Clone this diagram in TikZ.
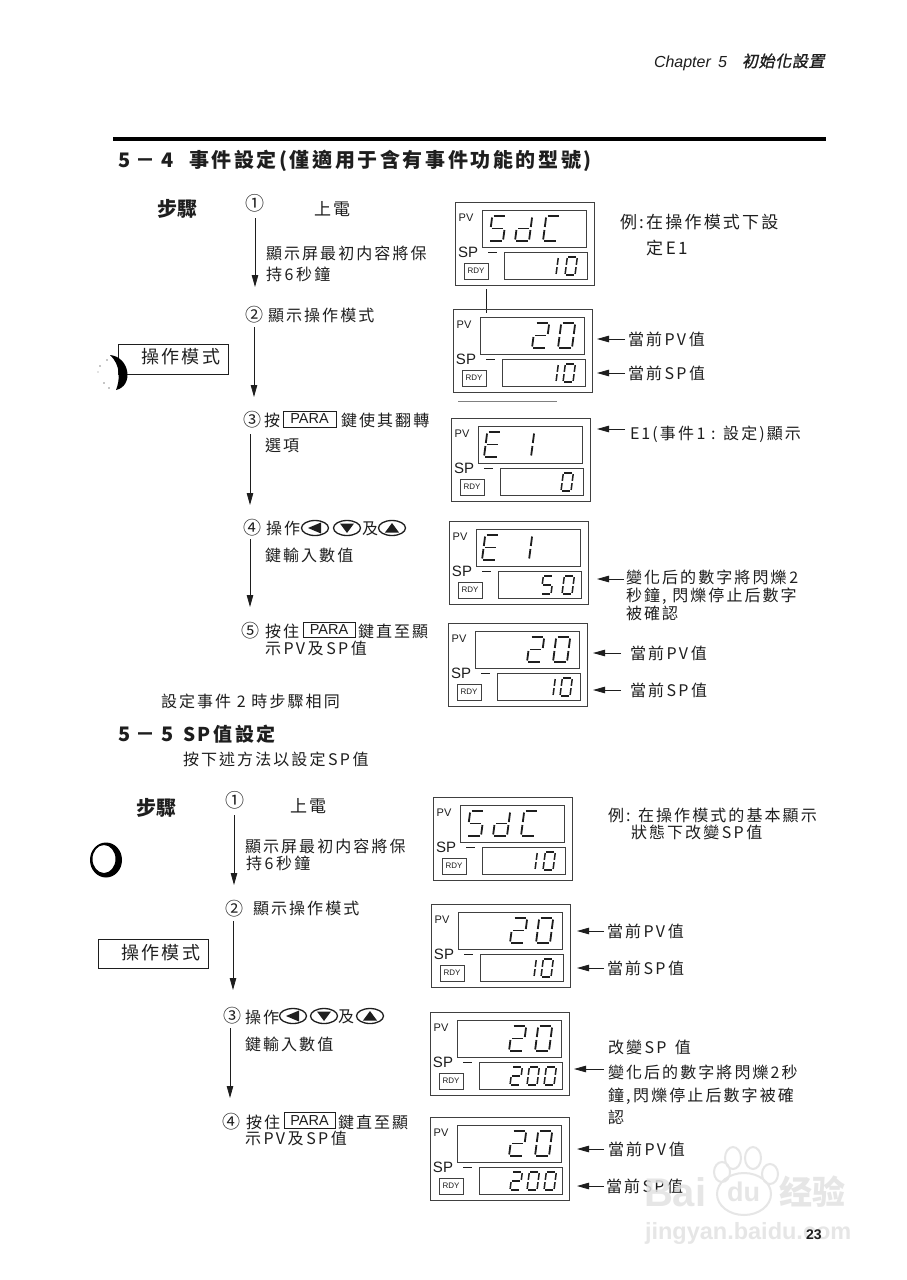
\documentclass[tikz,border=0pt]{standalone}
\usepackage{fontspec}
\usetikzlibrary{arrows.meta,shapes.geometric}
\setmainfont{Liberation Sans}
\newfontfamily\cjk[LetterSpace=13]{Noto Sans CJK TC}
\newfontfamily\cjktight{Noto Sans CJK TC}
\newfontfamily\cjkit[FakeSlant=0.2,FakeBold=1.2,LetterSpace=4]{Noto Sans CJK TC}
\newfontfamily\latit{Liberation Sans}
\definecolor{ink}{HTML}{1E1E1E}
\definecolor{wm}{HTML}{E2E2E2}
\def\sgA{.1/1/.9/1}\def\sgB{1/.94/1/.56}\def\sgC{1/.44/1/.06}\def\sgD{.1/0/.9/0}
\def\sgE{0/.44/0/.06}\def\sgF{0/.94/0/.56}\def\sgG{.1/.5/.9/.5}
\edef\dgsZero{\sgA,\sgB,\sgC,\sgD,\sgE,\sgF}
\edef\dgsOne{\sgB,\sgC}
\edef\dgsTwo{\sgA,\sgB,\sgG,\sgE,\sgD}
\edef\dgsFive{\sgA,\sgF,\sgG,\sgC,\sgD}
\edef\dgsLd{\sgB,\sgC,\sgD,\sgE,\sgG}
\edef\dgsCc{\sgA,\sgF,\sgE,\sgD}
\edef\dgsEe{\sgA,\sgF,\sgG,\sgE,\sgD}
% \dg{name}{x}{bottom y}{w}{h}{line width}
\newcommand\dg[6]{%
  \begin{scope}[shift={(#2,#3)},x={(#4pt,0pt)},y={(0.13*#5pt,#5pt)}]
    \expandafter\let\expandafter\dglist\csname dgs#1\endcsname
    \foreach \xa/\ya/\xb/\yb in \dglist {\draw[ink,line width=#6pt] (\xa,\ya)--(\xb,\yb);}
  \end{scope}}
\newcommand\pvd[2]{\dg{#1}{#2}{39}{14}{25}{1.8}}
\newcommand\spd[2]{\dg{#1}{#2}{73}{10}{18}{1.5}}
% panel
\newcommand\panel[5]{%
  \begin{scope}[shift={(#2,#3)}]
    \node[pbox,minimum width=139pt,minimum height=83pt] (#1) at (0,0) {};
    \node[pbox,minimum width=104pt,minimum height=37pt] (#1pv) at (27,8) {};
    \node[pbox,minimum width=83pt,minimum height=27pt] (#1sp) at (49,50) {};
    \node[pbox,minimum width=24pt,minimum height=16pt] (#1rdy) at (9,61) {};
    \node[ink,font=\fontsize{8}{8}\selectfont,inner sep=0pt] (#1rdyt) at (21,69) {RDY};
    \node[ink,font=\fontsize{11}{11}\selectfont,inner sep=0pt] (#1pvt) at (11,16) {PV};
    \node[ink,font=\fontsize{15}{16}\selectfont,inner sep=0pt] (#1spt) at (13,50) {SP};
    \draw[ink,line width=.8pt] (33,50) -- (42,50);
    #4
    #5
  \end{scope}}
\newcommand\tx[5][]{\node[lab,#1] (#2) at (#3,#4) {#5};}
\newcommand\arrowdown[4]{%
  \coordinate (#1s) at (#2,#3); \coordinate (#1e) at (#2,#4);
  \draw[stepline] (#1s) -- (#1e);}
\newcommand\leader[4]{%
  \coordinate (#1s) at (#2,#4); \coordinate (#1e) at (#3,#4);
  \draw[leadline] (#1s) -- (#1e);}
\newcommand\parabox[5]{\node[pbox,minimum width=#4pt,minimum height=#5pt,ink,line width=.7pt] (#1) at (#2,#3) {};
  \node[ink,font=\fontsize{14.5}{15}\selectfont,inner sep=0pt] (#1t) at (#2+#4/2,#3+#5/2) {PARA};}
% round key: dir 0=left 1=down 2=up
\newcommand\rkey[4]{%
  \node[draw=ink,ellipse,line width=1.3pt,minimum width=27pt,minimum height=15pt,inner sep=0pt] (#1) at (#2,#3) {};
  \begin{scope}[shift={(#2,#3)}]
  \ifcase#4 \fill[ink] (-7,0)--(6,-5.5)--(6,5.5)--cycle;
  \or \fill[ink] (-7,-4.5)--(7,-4.5)--(0,5)--cycle;
  \or \fill[ink] (-7,4.5)--(7,4.5)--(0,-5)--cycle;
  \fi
  \end{scope}}
\tikzset{
  pbox/.style={draw=ink!85,line width=.7pt,anchor=north west,inner sep=0pt,outer sep=0pt},
  lab/.style={anchor=west,inner sep=0pt,outer sep=0pt,text=ink,font=\fontsize{16}{18}\cjk,text height=12pt,text depth=0pt},
  big/.style={font=\fontsize{20}{22}\bfseries\cjk,text height=14.5pt},
  mid/.style={font=\fontsize{17}{20}\cjk,text height=13pt},
  num/.style={font=\fontsize{18}{20}\cjktight,text height=14pt},
  stepline/.style={draw=ink,line width=.8pt,-{Triangle[length=12pt,width=6.5pt]}},
  leadline/.style={draw=ink,line width=.8pt,-{Triangle[length=12pt,width=6.5pt]}},
}
\begin{document}
\begin{tikzpicture}[x=1pt,y=-1pt]
\useasboundingbox (0,0) rectangle (906,1280);
\fill[white] (0,0) rectangle (906,1280);
% header
\node[lab,font=\fontsize{16}{18}\latit\itshape] (hdr) at (654,61) {Chapter\ \,5};
\node[lab,font=\fontsize{16}{18}\cjkit] (hdrc) at (742,61) {初始化設置};
\draw[black,line width=4pt] (113,139) coordinate (ruleL) -- (826,139) coordinate (ruleR);
% section 5-4
\tx[big]{h1a}{118}{160}{5\;－\;4}
\tx[big]{h1b}{189}{160}{事件設定(僅適用于含有事件功能的型號)}
\tx[big,font=\fontsize{20}{22}\bfseries\cjktight]{st1}{157}{209}{步驟}
\tx[num,font=\fontsize{19}{20}\cjktight]{a1}{245}{203}{①}
\tx[mid]{a1t}{314}{209}{上電}
\arrowdown{ar1}{255}{218}{287}
\tx{a1x}{266}{253}{顯示屏最初内容將保}
\tx{a1y}{266}{274}{持\,6\,秒鐘}
\tx[num]{a2}{245}{314}{②}
\tx{a2t}{268}{315}{顯示操作模式}
\arrowdown{ar2}{254}{327}{397}
\node[pbox,ink,minimum width=110pt,minimum height=30pt] (mode1) at (118,344) {};
\tx[mid,font=\fontsize{18}{20}\cjk]{mode1t}{141}{357}{操作模式}
% crescent 1
\fill[black] (110,355) .. controls (130,357) and (134,386) .. (116,390) .. controls (120,380) and (121,365) .. (110,355) -- cycle;
\fill[black!45] (100,366) circle (.8) (104,383) circle (.8) (98,372) circle (.6) (109,388) circle (.9) (107,360) circle (.8);
\tx[num]{a3}{243}{419}{③}
\tx{a3a}{264}{420}{按}
\parabox{k3}{283}{411}{53}{16}
\tx{a3b}{341}{420}{鍵使其翻轉}
\tx{a3c}{265}{445}{選項}
\arrowdown{ar3}{250}{434}{505}
\tx[num]{a4}{243}{527}{④}
\tx{a4a}{266}{528}{操作}
\rkey{r1}{315}{528}{0}
\rkey{r2}{347}{528}{1}
\tx[font=\fontsize{16}{18}\cjktight]{a4b}{362}{528}{及}
\rkey{r3}{392}{528}{2}
\tx{a4c}{265}{555}{鍵輸入數值}
\arrowdown{ar4}{250}{539}{607}
\tx[num]{a5}{241}{630}{⑤}
\tx{a5a}{265}{631}{按住}
\parabox{k5}{303}{622}{52}{15}
\tx{a5b}{358}{631}{鍵直至顯}
\tx{a5c}{265}{648}{示\,PV\,及\,SP\,值}
\tx{a6}{161}{701}{設定事件 2 時步驟相同}
% panels top
\panel{p1}{455}{202}{\pvd{Five}{34}\pvd{Ld}{60}\pvd{Cc}{88}}{\spd{One}{91}\spd{Zero}{110}}
\draw[ink,line width=.6pt] (p1.south west) ++(31,4) coordinate (c1a) -- ++(0,24) coordinate (c1b);
\panel{p2}{453}{309}{\pvd{Two}{79}\pvd{Zero}{105}}{\spd{One}{93}\spd{Zero}{110}}
\draw[gray,line width=.7pt] (458,401) coordinate (c2a) -- (557,401) coordinate (c2b);
\panel{p3}{451}{418}{\pvd{Ee}{33}\pvd{One}{66}}{\spd{Zero}{110}}
\panel{p4}{449}{521}{\pvd{Ee}{33}\pvd{One}{66}}{\spd{Five}{92}\spd{Zero}{113}}
\panel{p5}{448}{623}{\pvd{Two}{79}\pvd{Zero}{105}}{\spd{One}{95}\spd{Zero}{112}}
% right labels top
\tx[mid]{n1}{620}{222}{例:在操作模式下設}
\tx[mid]{n2}{646}{248}{定\,E1}
\tx{l1}{628}{339}{當前\,PV\,值}\leader{ld1}{625}{597}{339}
\tx{l2}{628}{373}{當前\,SP\,值}\leader{ld2}{625}{597}{373}
\tx{l3}{630}{433}{E1(事件\,1 : 設定)顯示}\leader{ld3}{625}{597}{429}
\tx{l4}{626}{577}{變化后的數字將閃爍\,2}\leader{ld4}{624}{597}{579}
\tx{l5}{626}{595}{秒鐘, 閃爍停止后數字}
\tx{l6}{626}{613}{被確認}
\tx{l7}{630}{653}{當前\,PV\,值}\leader{ld5}{621}{593}{653}
\tx{l8}{630}{690}{當前\,SP\,值}\leader{ld6}{621}{593}{690}
% section 5-5
\tx[big]{h2a}{118}{734}{5\;－\;5}
\tx[big,font=\fontsize{19}{22}\bfseries\cjk]{h2b}{183}{734}{SP\,值設定}
\tx{h2c}{183}{759}{按下述方法以設定\,SP\,值}
\tx[big,font=\fontsize{20}{22}\bfseries\cjktight]{st2}{136}{808}{步驟}
\tx[num,font=\fontsize{19}{20}\cjktight]{b1}{225}{800}{①}
\tx[mid]{b1t}{290}{806}{上電}
\arrowdown{br1}{234}{815}{885}
\tx{b1x}{245}{846}{顯示屏最初内容將保}
\tx{b1y}{246}{863}{持\,6\,秒鐘}
\tx[num]{b2}{225}{908}{②}
\tx{b2t}{253}{908}{顯示操作模式}
\arrowdown{br2}{233}{921}{990}
\node[pbox,ink,minimum width=110pt,minimum height=29pt] (mode2) at (98,939) {};
\tx[mid,font=\fontsize{18}{20}\cjk]{mode2t}{121}{953}{操作模式}
% ring
\fill[black,even odd rule] (106,860) ellipse [x radius=16,y radius=17.5] (104,859) ellipse [x radius=11.5,y radius=14];
\tx[num]{b3}{223}{1015}{③}
\tx{b3a}{245}{1017}{操作}
\rkey{s1}{293}{1016}{0}
\rkey{s2}{324}{1016}{1}
\tx[font=\fontsize{16}{18}\cjktight]{b3b}{338}{1016}{及}
\rkey{s3}{370}{1016}{2}
\tx{b3c}{245}{1044}{鍵輸入數值}
\arrowdown{br3}{230}{1028}{1098}
\tx[num]{b4}{222}{1121}{④}
\tx{b4a}{246}{1122}{按住}
\parabox{k7}{284}{1112}{51}{16}
\tx{b4b}{338}{1122}{鍵直至顯}
\tx{b4c}{245}{1138}{示\,PV\,及\,SP\,值}
% panels bottom
\panel{q1}{433}{797}{\pvd{Five}{34}\pvd{Ld}{60}\pvd{Cc}{88}}{\spd{One}{92}\spd{Zero}{110}}
\panel{q2}{431}{904}{\pvd{Two}{79}\pvd{Zero}{105}}{\spd{One}{93}\spd{Zero}{110}}
\panel{q3}{430}{1012}{\pvd{Two}{79}\pvd{Zero}{105}}{\spd{Two}{80}\spd{Zero}{97}\spd{Zero}{114}}
\panel{q4}{430}{1117}{\pvd{Two}{79}\pvd{Zero}{105}}{\spd{Two}{80}\spd{Zero}{97}\spd{Zero}{114}}
% right labels bottom
\tx{m1}{608}{815}{例: 在操作模式的基本顯示}
\tx{m2}{631}{832}{狀態下改變\,SP\,值}
\tx{m3}{607}{931}{當前\,PV\,值}\leader{me1}{604}{577}{931}
\tx{m4}{607}{968}{當前\,SP\,值}\leader{me2}{604}{577}{968}
\tx{m5}{608}{1047}{改變\,SP\ \,值}
\tx{m6}{608}{1072}{變化后的數字將閃爍2秒}\leader{me3}{604}{574}{1069}
\tx{m7}{608}{1095}{鐘,\,閃爍停止后數字被確}
\tx{m8}{608}{1117}{認}
\tx{m9}{608}{1149}{當前\,PV\,值}\leader{me4}{604}{577}{1149}
\tx{m10}{606}{1186}{當前\,SP\,值}\leader{me5}{604}{577}{1186}
% watermark
\begin{scope}[opacity=.85]
\node[lab,text=wm,font=\fontsize{40}{40}\bfseries,text height=29pt] (wm1) at (644,1192) {Bai};
\draw[wm,line width=2pt] (733,1158) ellipse [x radius=8,y radius=11] (753,1158) ellipse [x radius=8,y radius=11]
  (722,1172) ellipse [x radius=8,y radius=10] (770,1174) ellipse [x radius=8,y radius=10]
  (744,1194) ellipse [x radius=27,y radius=21];
\node[lab,text=wm,font=\fontsize{27}{30}\bfseries,text height=19pt] (wm2) at (727,1192) {du};
\node[lab,text=wm,font=\fontsize{33}{36}\bfseries\cjktight,text height=24pt] (wm3) at (779,1192) {经验};
\node[lab,text=wm,font=\fontsize{23.5}{28}\bfseries,text height=17pt] (wm4) at (645,1231) {jingyan.baidu.com};
\end{scope}
\node[lab,font=\fontsize{14}{16}\bfseries,text height=10pt] (pg) at (806,1234) {23};
\end{tikzpicture}
\end{document}
